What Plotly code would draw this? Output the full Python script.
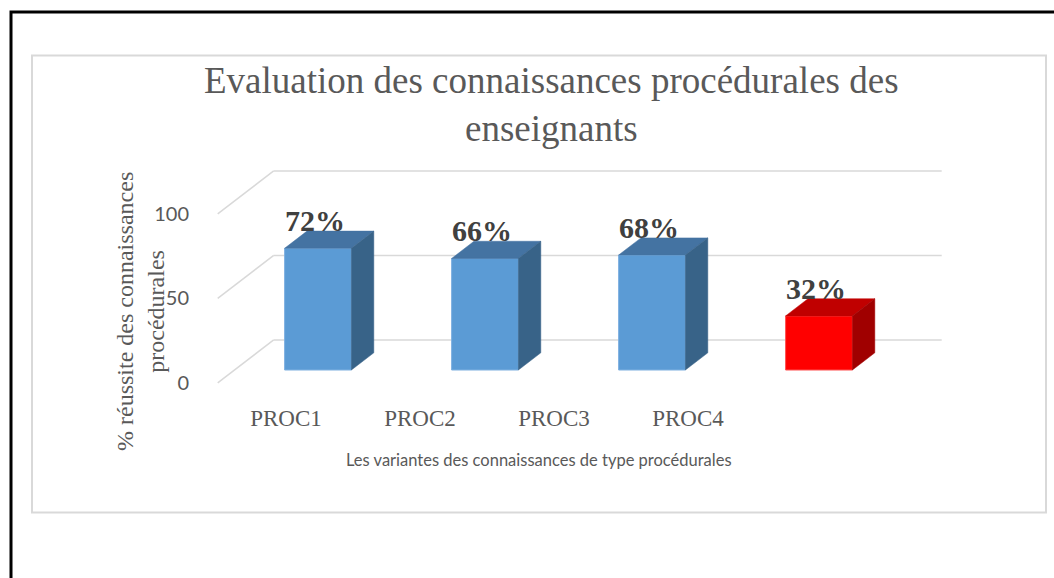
import plotly.graph_objects as go

# ---- data ----
categories = ["PROC1", "PROC2", "PROC3", "PROC4"]
values = [72, 66, 68, 32]
tick_values = [0, 50, 100]
title_text = "Evaluation des connaissances procédurales des<br>enseignants"
y_title = "% réussite des connaissances<br>procédurales"
x_title = "Les variantes des connaissances de type procédurales"

# ---- styling / geometry ----
W, H = 1054, 578
PX_PER_CAT = 167.0          # horizontal spacing of the bars
PX_PER_UNIT = 1.69          # vertical pixels per percentage point
FRONT_X0 = 301.2            # pixel x of category 0 on the front floor edge
FRONT_Y0 = 382.9            # pixel y of value 0 on the front floor edge
DEPTH_PX = (56.0, 43.0)     # floor depth vector (right, up) in pixels
BAR_W = 0.40                # bar width in category units
BAR_D0, BAR_D1 = 0.3, 0.7   # bar depth span as a fraction of the floor depth
LABEL_X0, LABEL_STEP = 286.0, 134.0  # category label placement

dX = DEPTH_PX[0] / PX_PER_CAT
dY = DEPTH_PX[1] / PX_PER_UNIT

x_range = [-FRONT_X0 / PX_PER_CAT, (W - FRONT_X0) / PX_PER_CAT]
y_range = [(FRONT_Y0 - H) / PX_PER_UNIT, FRONT_Y0 / PX_PER_UNIT]
x2_range = [-LABEL_X0 / LABEL_STEP, (W - LABEL_X0) / LABEL_STEP]

front_col = ["#5B9BD5", "#5B9BD5", "#5B9BD5", "#FF0000"]
top_col = ["#4473A2", "#4473A2", "#4473A2", "#C00000"]
side_col = ["#386388", "#386388", "#386388", "#A00000"]
edge_col = ["#7EB0E0", "#7EB0E0", "#7EB0E0", "#FF5050"]
grid_col = "#D9D9D9"
text_gray = "#595959"

fig = go.Figure()

base = BAR_D0 * dY
depth_x = (BAR_D1 - BAR_D0) * dX
depth_y = (BAR_D1 - BAR_D0) * dY
bar_x = [i + BAR_D0 * dX for i in range(len(categories))]

# front faces of the bars
fig.add_trace(go.Bar(
    x=bar_x, y=values, base=[base] * len(values), width=BAR_W,
    marker=dict(color=front_col, line=dict(color=edge_col, width=1)),
    hoverinfo="skip", showlegend=False,
))

# top and side faces of each block
for xc, v, tc, sc in zip(bar_x, values, top_col, side_col):
    xl, xr = xc - BAR_W / 2, xc + BAR_W / 2
    top = base + v
    fig.add_trace(go.Scatter(
        x=[xl, xr, xr + depth_x, xl + depth_x, xl],
        y=[top, top, top + depth_y, top + depth_y, top],
        fill="toself", fillcolor=tc, mode="lines", line=dict(color=tc, width=0.5),
        hoverinfo="skip", showlegend=False,
    ))
    fig.add_trace(go.Scatter(
        x=[xr, xr + depth_x, xr + depth_x, xr, xr],
        y=[base, base + depth_y, top + depth_y, top, base],
        fill="toself", fillcolor=sc, mode="lines", line=dict(color=sc, width=0.5),
        hoverinfo="skip", showlegend=False,
    ))

# invisible trace carrying the category label axis
fig.add_trace(go.Scatter(
    x=categories, y=[0] * len(categories), xaxis="x2", yaxis="y",
    mode="markers", marker=dict(opacity=0), hoverinfo="skip", showlegend=False,
))

# back wall gridlines and their side-wall diagonals
shapes = []
x_left, x_right = -0.5, len(categories) - 0.5
for t in tick_values:
    shapes.append(dict(type="line", xref="x", yref="y", layer="below",
                       x0=x_left + dX, y0=t + dY, x1=x_right + dX, y1=t + dY,
                       line=dict(color=grid_col, width=1.5)))
    shapes.append(dict(type="line", xref="x", yref="y", layer="below",
                       x0=x_left, y0=t, x1=x_left + dX, y1=t + dY,
                       line=dict(color=grid_col, width=1.5)))

# frame and chart area outline
shapes.append(dict(type="rect", xref="paper", yref="paper",
                   x0=11 / W, y0=-0.02, x1=1.02, y1=1 - 12 / H,
                   line=dict(color="#000000", width=3)))
shapes.append(dict(type="rect", xref="paper", yref="paper",
                   x0=32 / W, y0=1 - 512.5 / H, x1=1046 / W, y1=1 - 55.5 / H,
                   line=dict(color=grid_col, width=2)))

annotations = []
# value labels above each block
for xc, v in zip(bar_x, values):
    annotations.append(dict(
        x=xc - 0.02, y=base + v + depth_y, xref="x", yref="y",
        text=f"<b>{v}%</b>", showarrow=False, yanchor="bottom", yshift=-8,
        font=dict(family="Liberation Serif", size=30, color="#404040"),
    ))

annotations.append(dict(
    x=551 / W, y=1 - 58 / H, xref="paper", yref="paper", text=title_text,
    showarrow=False, xanchor="center", yanchor="top",
    font=dict(family="Liberation Serif", size=37, color=text_gray),
))
annotations.append(dict(
    x=140 / W, y=1 - 312 / H, xref="paper", yref="paper", text=y_title,
    showarrow=False, textangle=-90, xanchor="center", yanchor="middle",
    font=dict(family="Liberation Serif", size=24, color=text_gray),
))
annotations.append(dict(
    x=539 / W, y=1 - 460 / H, xref="paper", yref="paper", text=x_title,
    showarrow=False, xanchor="center", yanchor="middle",
    font=dict(family="Lato", size=16.5, color=text_gray),
))

fig.update_layout(
    width=W, height=H,
    margin=dict(l=0, r=0, t=0, b=0),
    paper_bgcolor="white", plot_bgcolor="white",
    xaxis=dict(range=x_range, domain=[0, 1], visible=False, fixedrange=True),
    yaxis=dict(range=y_range, domain=[0, 1], anchor="free", position=189 / W,
               tickvals=tick_values, ticks="", showgrid=False, zeroline=False,
               showline=False, tickfont=dict(family="Lato", size=20, color=text_gray),
               fixedrange=True),
    xaxis2=dict(range=x2_range, overlaying="x", anchor="free", position=1 - 402 / H,
                type="category", tickvals=categories, ticks="", showgrid=False,
                zeroline=False, showline=False,
                tickfont=dict(family="Liberation Serif", size=23, color=text_gray),
                fixedrange=True),
    shapes=shapes,
    annotations=annotations,
    showlegend=False,
)

fig.write_html("out.html")
